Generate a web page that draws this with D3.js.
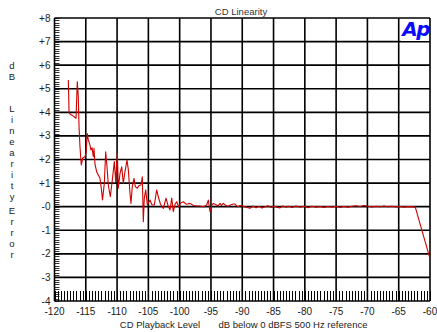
<!DOCTYPE html>
<html>
<head>
<meta charset="utf-8">
<script src="https://cdn.jsdelivr.net/npm/d3@7"></script>
<style>
  body { margin: 0; background: #fff; }
  svg { display: block; font-family: "Liberation Sans", Arial, sans-serif; }
</style>
</head>
<body>
<div id="chart"></div>
<script>
// playback level (dB below 0 dBFS) and measured linearity error (dB)
const levelDb = [
  -117.79, -117.68, -117.64, -117.2, -116.56, -116.36, -116.2, -116.08, -115.93, -115.72,
  -115.49, -115.13, -114.97, -114.76, -114.6, -114.33, -114.17, -114.0, -113.8, -113.69,
  -113.53, -113.26, -113.0, -112.73, -112.49, -112.33, -112.04, -111.82, -111.61, -111.4,
  -111.08, -110.76, -110.44, -110.22, -109.96, -109.8, -109.53, -109.26, -109.01, -108.73,
  -108.41, -108.2, -107.94, -107.78, -107.57, -107.3, -107.09, -106.77, -106.5, -106.18,
  -105.97, -105.81, -105.65, -105.43, -105.17, -104.74, -104.42, -104.05, -103.67, -103.41,
  -103.06, -102.61, -102.18, -101.86, -101.54, -101.27, -101.02, -100.74, -100.47, -100.18,
  -99.87, -99.42, -98.91, -98.35, -97.79, -97.23, -96.75, -96.22, -95.68, -95.42,
  -95.15, -94.88, -94.62, -94.19, -93.87, -93.55, -93.31, -93.03, -92.6, -92.27,
  -91.91, -91.43, -91.16, -90.76, -90.36, -89.88, -89.4, -88.76, -88.28, -87.8,
  -87.32, -86.84, -86.36, -85.88, -85.4, -84.92, -84.44, -83.97, -83.49, -83.01,
  -82.53, -82.05, -81.41, -80.77, -80.13, -79.49, -78.85, -78.21, -77.57, -76.93,
  -76.3, -75.66, -75.02, -74.38, -73.74, -73.1, -72.46, -71.82, -71.18, -70.54,
  -69.9, -69.26, -68.63, -67.99, -67.35, -66.71, -66.07, -65.43, -64.79, -64.15,
  -63.51, -62.87, -62.35, -60.0
];
const errorDb = [
  5.37, 4.02, 3.95, 3.88, 3.75, 5.3, 4.66, 3.39, 2.54, 1.77,
  2.06, 2.12, 2.27, 3.1, 2.83, 2.61, 2.4, 2.5, 2.12, 2.47,
  1.8, 1.48, 1.34, 1.2, 0.7, 0.28, 0.99, 2.33, 1.69, 0.92,
  0.42, 1.13, 1.91, 1.06, 2.26, 0.78, 1.41, 1.69, 0.99, 1.5,
  1.98, 1.55, 0.57, 0.14, 0.85, 1.2, 0.85, 0.78, 0.9, 0.92,
  1.27, -0.64, 0.36, 0.71, 0.07, 0.28, 0.07, 0.07, 0.71, 0.42,
  0.1, -0.07, 0.36, 0.05, -0.14, 0.36, -0.21, 0.1, 0.21, 0.0,
  0.15, 0.21, 0.1, 0.14, 0.05, 0.03, 0.03, 0.0, 0.07, 0.28,
  -0.21, 0.05, 0.14, 0.08, 0.03, 0.14, 0.05, 0.14, 0.05, 0.02,
  0.07, 0.11, 0.11, 0.0, 0.05, 0.03, -0.02, -0.07, 0.03, -0.05,
  0.02, -0.06, 0.0, 0.04, -0.03, 0.02, -0.02, -0.05, 0.03, -0.02,
  0.02, -0.03, 0.03, -0.02, 0.02, -0.04, 0.02, -0.02, 0.01, -0.03,
  0.01, -0.02, 0.02, -0.03, 0.01, -0.02, 0.02, 0.04, 0.01, 0.05,
  0.02, -0.01, 0.02, 0.0, 0.03, 0.0, 0.02, -0.01, 0.01, -0.02,
  0.0, -0.01, -0.02, -2.2
];
const xTicks = [-120, -115, -110, -105, -100, -95, -90, -85, -80, -75, -70, -65, -60];
const yTicks = [8, 7, 6, 5, 4, 3, 2, 1, 0, -1, -2, -3, -4];
const yTickLabels = ["+8", "+7", "+6", "+5", "+4", "+3", "+2", "+1", "-0", "-1", "-2", "-3", "-4"];
const yTitleWords = ["dB", "Linearity", "Error"];

const width = 437, height = 332;
const plot = {left: 54.5, right: 430, top: 18, bottom: 301};

const svg = d3.select("#chart")
  .append("svg")
  .attr("width", width)
  .attr("height", height);

const x = d3.scaleLinear().domain([-120, -60]).range([plot.left, plot.right]);
const y = d3.scaleLinear().domain([-4, 8]).range([plot.bottom, plot.top]);

// minor ticks along the left edge (0.1 dB)
const leftMinor = d3.range(-40, 81).map(i => i / 10);
svg.append("g")
  .selectAll("line")
  .data(leftMinor)
  .enter()
  .append("line")
  .attr("x1", plot.left)
  .attr("x2", plot.left + 5)
  .attr("y1", d => Math.round(y(d)) + 0.5)
  .attr("y2", d => Math.round(y(d)) + 0.5)
  .attr("stroke", "#000")
  .attr("stroke-width", 0.8);

// minor ticks along the bottom edge (0.5 dB)
const bottomMinor = d3.range(-240, -119).map(i => i / 2);
svg.append("g")
  .selectAll("line")
  .data(bottomMinor)
  .enter()
  .append("line")
  .attr("x1", d => Math.round(x(d)) + 0.5)
  .attr("x2", d => Math.round(x(d)) + 0.5)
  .attr("y1", plot.bottom)
  .attr("y2", plot.bottom - 10)
  .attr("stroke", "#000")
  .attr("stroke-width", 1);

// grid
svg.append("g")
  .selectAll("line")
  .data(xTicks)
  .enter()
  .append("line")
  .attr("x1", d => x(d))
  .attr("x2", d => x(d))
  .attr("y1", plot.top)
  .attr("y2", plot.bottom)
  .attr("stroke", "#000")
  .attr("stroke-width", 1.6);

svg.append("g")
  .selectAll("line")
  .data(yTicks)
  .enter()
  .append("line")
  .attr("x1", plot.left)
  .attr("x2", plot.right)
  .attr("y1", d => y(d))
  .attr("y2", d => y(d))
  .attr("stroke", "#000")
  .attr("stroke-width", 1.6);

// tick labels
svg.append("g")
  .selectAll("text")
  .data(yTicks)
  .enter()
  .append("text")
  .attr("x", plot.left - 4)
  .attr("y", d => y(d))
  .attr("dy", "0.35em")
  .attr("text-anchor", "end")
  .attr("font-size", 10)
  .attr("fill", "#222")
  .text((d, i) => yTickLabels[i]);

svg.append("g")
  .selectAll("text")
  .data(xTicks)
  .enter()
  .append("text")
  .attr("x", d => x(d))
  .attr("y", 311)
  .attr("dy", "0.35em")
  .attr("text-anchor", "middle")
  .attr("font-size", 10)
  .attr("fill", "#222")
  .text(d => d);

// the measured curve
const line = d3.line()
  .x((d, i) => x(levelDb[i]))
  .y(d => y(d));

svg.append("path")
  .datum(errorDb)
  .attr("d", line)
  .attr("fill", "none")
  .attr("stroke", "#d00000")
  .attr("stroke-width", 1.1)
  .attr("stroke-linejoin", "round");

// titles
svg.append("text")
  .attr("x", 241)
  .attr("y", 12)
  .attr("dy", "0.35em")
  .attr("text-anchor", "middle")
  .attr("font-size", 9.5)
  .attr("fill", "#333")
  .text("CD Linearity");

svg.append("text")
  .attr("x", 160)
  .attr("y", 325)
  .attr("dy", "0.35em")
  .attr("text-anchor", "middle")
  .attr("font-size", 9.5)
  .attr("fill", "#222")
  .text("CD Playback Level");

svg.append("text")
  .attr("x", 293)
  .attr("y", 325)
  .attr("dy", "0.35em")
  .attr("text-anchor", "middle")
  .attr("font-size", 9.5)
  .attr("fill", "#222")
  .text("dB below 0 dBFS 500 Hz reference");

// stacked vertical y title
const wordTop = [66, 109, 211];
const yTitle = svg.append("g").attr("font-size", 9.5).attr("fill", "#222");
yTitleWords.forEach((w, wi) => {
  w.split("").forEach((ch, ci) => {
    yTitle.append("text")
      .attr("x", 12)
      .attr("y", wordTop[wi] + ci * 10.9)
      .attr("dy", "0.35em")
      .attr("text-anchor", "middle")
      .text(ch);
  });
});

// Ap logo
svg.append("rect")
  .attr("x", 401)
  .attr("y", 19)
  .attr("width", 28)
  .attr("height", 22)
  .attr("fill", "#fff");

svg.append("text")
  .attr("x", 429)
  .attr("y", 36)
  .attr("text-anchor", "end")
  .attr("font-family", "DejaVu Sans")
  .attr("font-size", 20)
  .attr("font-weight", "bold")
  .attr("font-style", "italic")
  .attr("fill", "#0a0aff")
  .attr("letter-spacing", -1.5)
  .text("Ap");
</script>
</body>
</html>
